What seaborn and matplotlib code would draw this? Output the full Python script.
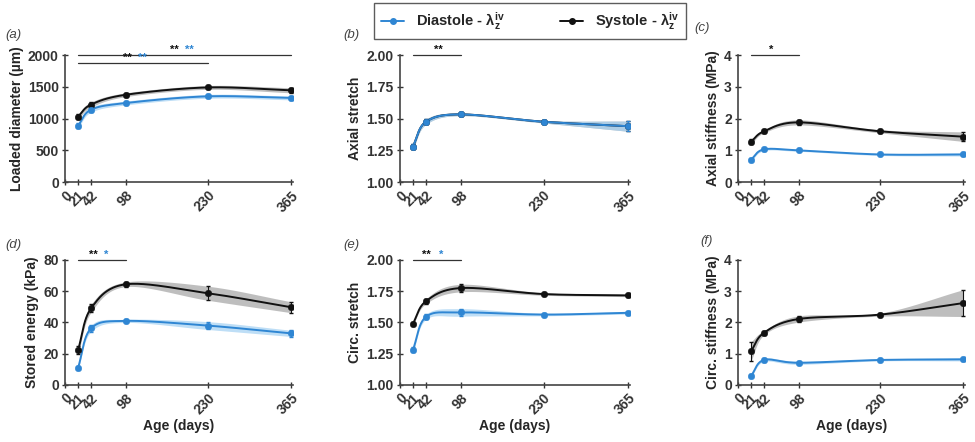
import numpy as np
import pandas as pd
import matplotlib
matplotlib.use("Agg")
import matplotlib.pyplot as plt
from matplotlib.lines import Line2D
import seaborn as sns

# ---- data ----
age = [21, 42, 98, 230, 365]
age_ticks = [0, 21, 42, 98, 230, 365]

diam_sys = [1030, 1220, 1375, 1490, 1445]
diam_sys_err = [40, 40, 30, 30, 40]
diam_dia = [890, 1140, 1245, 1350, 1325]
diam_dia_err = [40, 40, 30, 30, 30]

axstretch_sys = [1.28, 1.475, 1.533, 1.475, 1.44]
axstretch_sys_err = [0.02, 0.02, 0.01, 0.01, 0.04]
axstretch_dia = [1.28, 1.475, 1.533, 1.475, 1.44]
axstretch_dia_err = [0.02, 0.02, 0.01, 0.01, 0.04]

axstiff_sys = [1.27, 1.6, 1.88, 1.6, 1.43]
axstiff_sys_err = [0.08, 0.05, 0.08, 0.05, 0.15]
axstiff_dia = [0.71, 1.03, 1.0, 0.87, 0.87]
axstiff_dia_err = [0.05, 0.04, 0.03, 0.03, 0.05]

energy_sys = [22.4, 49.0, 64.4, 58.7, 49.7]
energy_sys_err = [2.5, 2.5, 1.5, 4.5, 3.5]
energy_dia = [11.0, 36.2, 41.0, 38.0, 33.0]
energy_dia_err = [1.0, 2.0, 1.0, 2.5, 2.0]

circstretch_sys = [1.49, 1.67, 1.775, 1.727, 1.716]
circstretch_sys_err = [0.01, 0.02, 0.03, 0.01, 0.01]
circstretch_dia = [1.28, 1.545, 1.58, 1.563, 1.577]
circstretch_dia_err = [0.02, 0.02, 0.03, 0.01, 0.01]

circstiff_sys = [1.08, 1.67, 2.11, 2.25, 2.62]
circstiff_sys_err = [0.3, 0.07, 0.1, 0.05, 0.43]
circstiff_dia = [0.29, 0.8, 0.71, 0.8, 0.82]
circstiff_dia_err = [0.05, 0.05, 0.05, 0.03, 0.05]

BLUE = "#2f86d3"
BLUE_BAND = "#a8d3f3"
BLACK = "#111111"
GREY_BAND = "#a9a9a9"


def catmull_rom(x, y, n=40):
    """Smooth curve through the points (Excel-style smoothed line)."""
    pts = np.column_stack([x, y]).astype(float)
    p = np.vstack([2 * pts[0] - pts[1], pts, 2 * pts[-1] - pts[-2]])
    out = []
    t = np.linspace(0, 1, n)[:, None]
    for i in range(1, len(p) - 2):
        p0, p1, p2, p3 = p[i - 1], p[i], p[i + 1], p[i + 2]
        seg = 0.5 * ((2 * p1) + (-p0 + p2) * t
                     + (2 * p0 - 5 * p1 + 4 * p2 - p3) * t ** 2
                     + (-p0 + 3 * p1 - 3 * p2 + p3) * t ** 3)
        out.append(seg if i == 1 else seg[1:])
    out = np.vstack(out)
    return out[:, 0], out[:, 1]


def draw_series(ax, mean, err, color, band):
    mean = np.asarray(mean, float)
    err = np.asarray(err, float)
    xs, ys = catmull_rom(age, mean)
    _, lo = catmull_rom(age, mean - err)
    _, hi = catmull_rom(age, mean + err)
    ax.fill_between(xs, lo, hi, color=band, alpha=0.75, lw=0, zorder=2)
    ax.plot(xs, ys, color=color, lw=1.4, zorder=3)
    ax.errorbar(age, mean, yerr=err, fmt="none", ecolor=color, elinewidth=0.8,
                capsize=1.5, zorder=3)
    df = pd.DataFrame({"age": age, "val": mean})
    sns.scatterplot(data=df, x="age", y="val", ax=ax, color=color, s=22,
                    edgecolor=color, zorder=4, legend=False)


# significance bars: (start, end, y, first star x, gap, [(text, colour)])
panels = [
    ("(a)", "Loaded diameter (\u00b5m)", (0, 2000), [0, 500, 1000, 1500, 2000], "{:.0f}",
     diam_sys, diam_sys_err, diam_dia, diam_dia_err,
     [(21, 365, 2000, 176, 24, [("**", BLACK), ("**", BLUE)]),
      (21, 230, 1880, 101, 24, [("**", BLACK), ("**", BLUE)])]),
    ("(b)", "Axial stretch", (1.0, 2.0), [1.0, 1.25, 1.5, 1.75, 2.0], "{:.2f}",
     axstretch_sys, axstretch_sys_err, axstretch_dia, axstretch_dia_err,
     [(21, 98, 2.0, 61, 0, [("**", BLACK)])]),
    ("(c)", "Axial stiffness (MPa)", (0, 4), [0, 1, 2, 3, 4], "{:.0f}",
     axstiff_sys, axstiff_sys_err, axstiff_dia, axstiff_dia_err,
     [(21, 98, 4.0, 53, 0, [("*", BLACK)])]),
    ("(d)", "Stored energy (kPa)", (0, 80), [0, 20, 40, 60, 80], "{:.0f}",
     energy_sys, energy_sys_err, energy_dia, energy_dia_err,
     [(21, 98, 80, 46, 20, [("**", BLACK), ("*", BLUE)])]),
    ("(e)", "Circ. stretch", (1.0, 2.0), [1.0, 1.25, 1.5, 1.75, 2.0], "{:.2f}",
     circstretch_sys, circstretch_sys_err, circstretch_dia, circstretch_dia_err,
     [(21, 98, 2.0, 42, 24, [("**", BLACK), ("*", BLUE)])]),
    ("(f)", "Circ. stiffness (MPa)", (0, 4), [0, 1, 2, 3, 4], "{:.0f}",
     circstiff_sys, circstiff_sys_err, circstiff_dia, circstiff_dia_err, []),
]

sns.set_theme(style="ticks")
plt.rcParams["font.family"] = ["Liberation Sans", "DejaVu Sans"]
plt.rcParams["mathtext.fontset"] = "custom"
plt.rcParams["mathtext.rm"] = "Liberation Sans:bold"
plt.rcParams["mathtext.it"] = "Liberation Sans:bold"

fig = plt.figure(figsize=(9.75, 4.42), dpi=100)
lefts = [0.0667, 0.410, 0.757]
widths = [0.234, 0.236, 0.233]
bottoms = [0.588, 0.129]
heights = [0.2875, 0.283]
label_pos = [(0.005, 0.915), (0.352, 0.915), (0.712, 0.93),
             (0.005, 0.44), (0.352, 0.44), (0.718, 0.448)]

for i, (tag, ylab, ylim, yticks, yfmt, s_m, s_e, d_m, d_e, sig) in enumerate(panels):
    r, c = divmod(i, 3)
    ax = fig.add_axes([lefts[c], bottoms[r], widths[c], heights[r]])
    draw_series(ax, s_m, s_e, BLACK, GREY_BAND)
    draw_series(ax, d_m, d_e, BLUE, BLUE_BAND)
    ax.set_xlim(0, 368)
    ax.set_ylim(*ylim)
    ax.set_xticks(age_ticks)
    ax.set_yticks(yticks)
    ax.set_yticklabels([yfmt.format(v) for v in yticks], fontsize=10, fontweight="bold")
    ax.set_xticklabels([str(v) for v in age_ticks], rotation=45, ha="right",
                       rotation_mode="anchor", fontsize=10, fontweight="bold")
    if r == 1:
        ax.set_xlabel("Age (days)", fontsize=10, fontweight="bold", labelpad=1)
    else:
        ax.set_xlabel("")
    ax.set_ylabel(ylab, fontsize=10, fontweight="bold", labelpad=3)
    ax.tick_params(direction="inout", length=5, width=1.0, colors="#333333", pad=2)
    for sp in ("top", "right"):
        ax.spines[sp].set_visible(False)
    for sp in ("left", "bottom"):
        ax.spines[sp].set_linewidth(1.2)
        ax.spines[sp].set_color("#444444")
    for x0, x1, yv, xt, gap, stars in sig:
        ax.plot([x0, x1], [yv, yv], color="#333333", lw=0.9, clip_on=False)
        off = 0
        for txt, col in stars:
            ax.text(xt + off, yv, txt, color=col, fontsize=8, fontweight="bold",
                    ha="center", va="bottom", clip_on=False)
            off += gap
    fig.text(label_pos[i][0], label_pos[i][1], tag, fontsize=9.5, style="italic",
             color="#444444")

handles = [
    Line2D([0], [0], color=BLUE, lw=1.4, marker="o", markersize=4),
    Line2D([0], [0], color=BLACK, lw=1.4, marker="o", markersize=4),
]
leg = fig.legend(handles, ["Diastole - \u03bb$_z^{iv}$", "Systole - \u03bb$_z^{iv}$"],
                 loc="center", bbox_to_anchor=(0.5436, 0.952), ncol=2, frameon=True,
                 fancybox=False, edgecolor="#333333", handlelength=1.6,
                 columnspacing=3.8, borderpad=0.5,
                 prop={"weight": "bold", "size": 10.5})
leg.get_frame().set_linewidth(1.0)

fig.savefig("out.png", dpi=100)
